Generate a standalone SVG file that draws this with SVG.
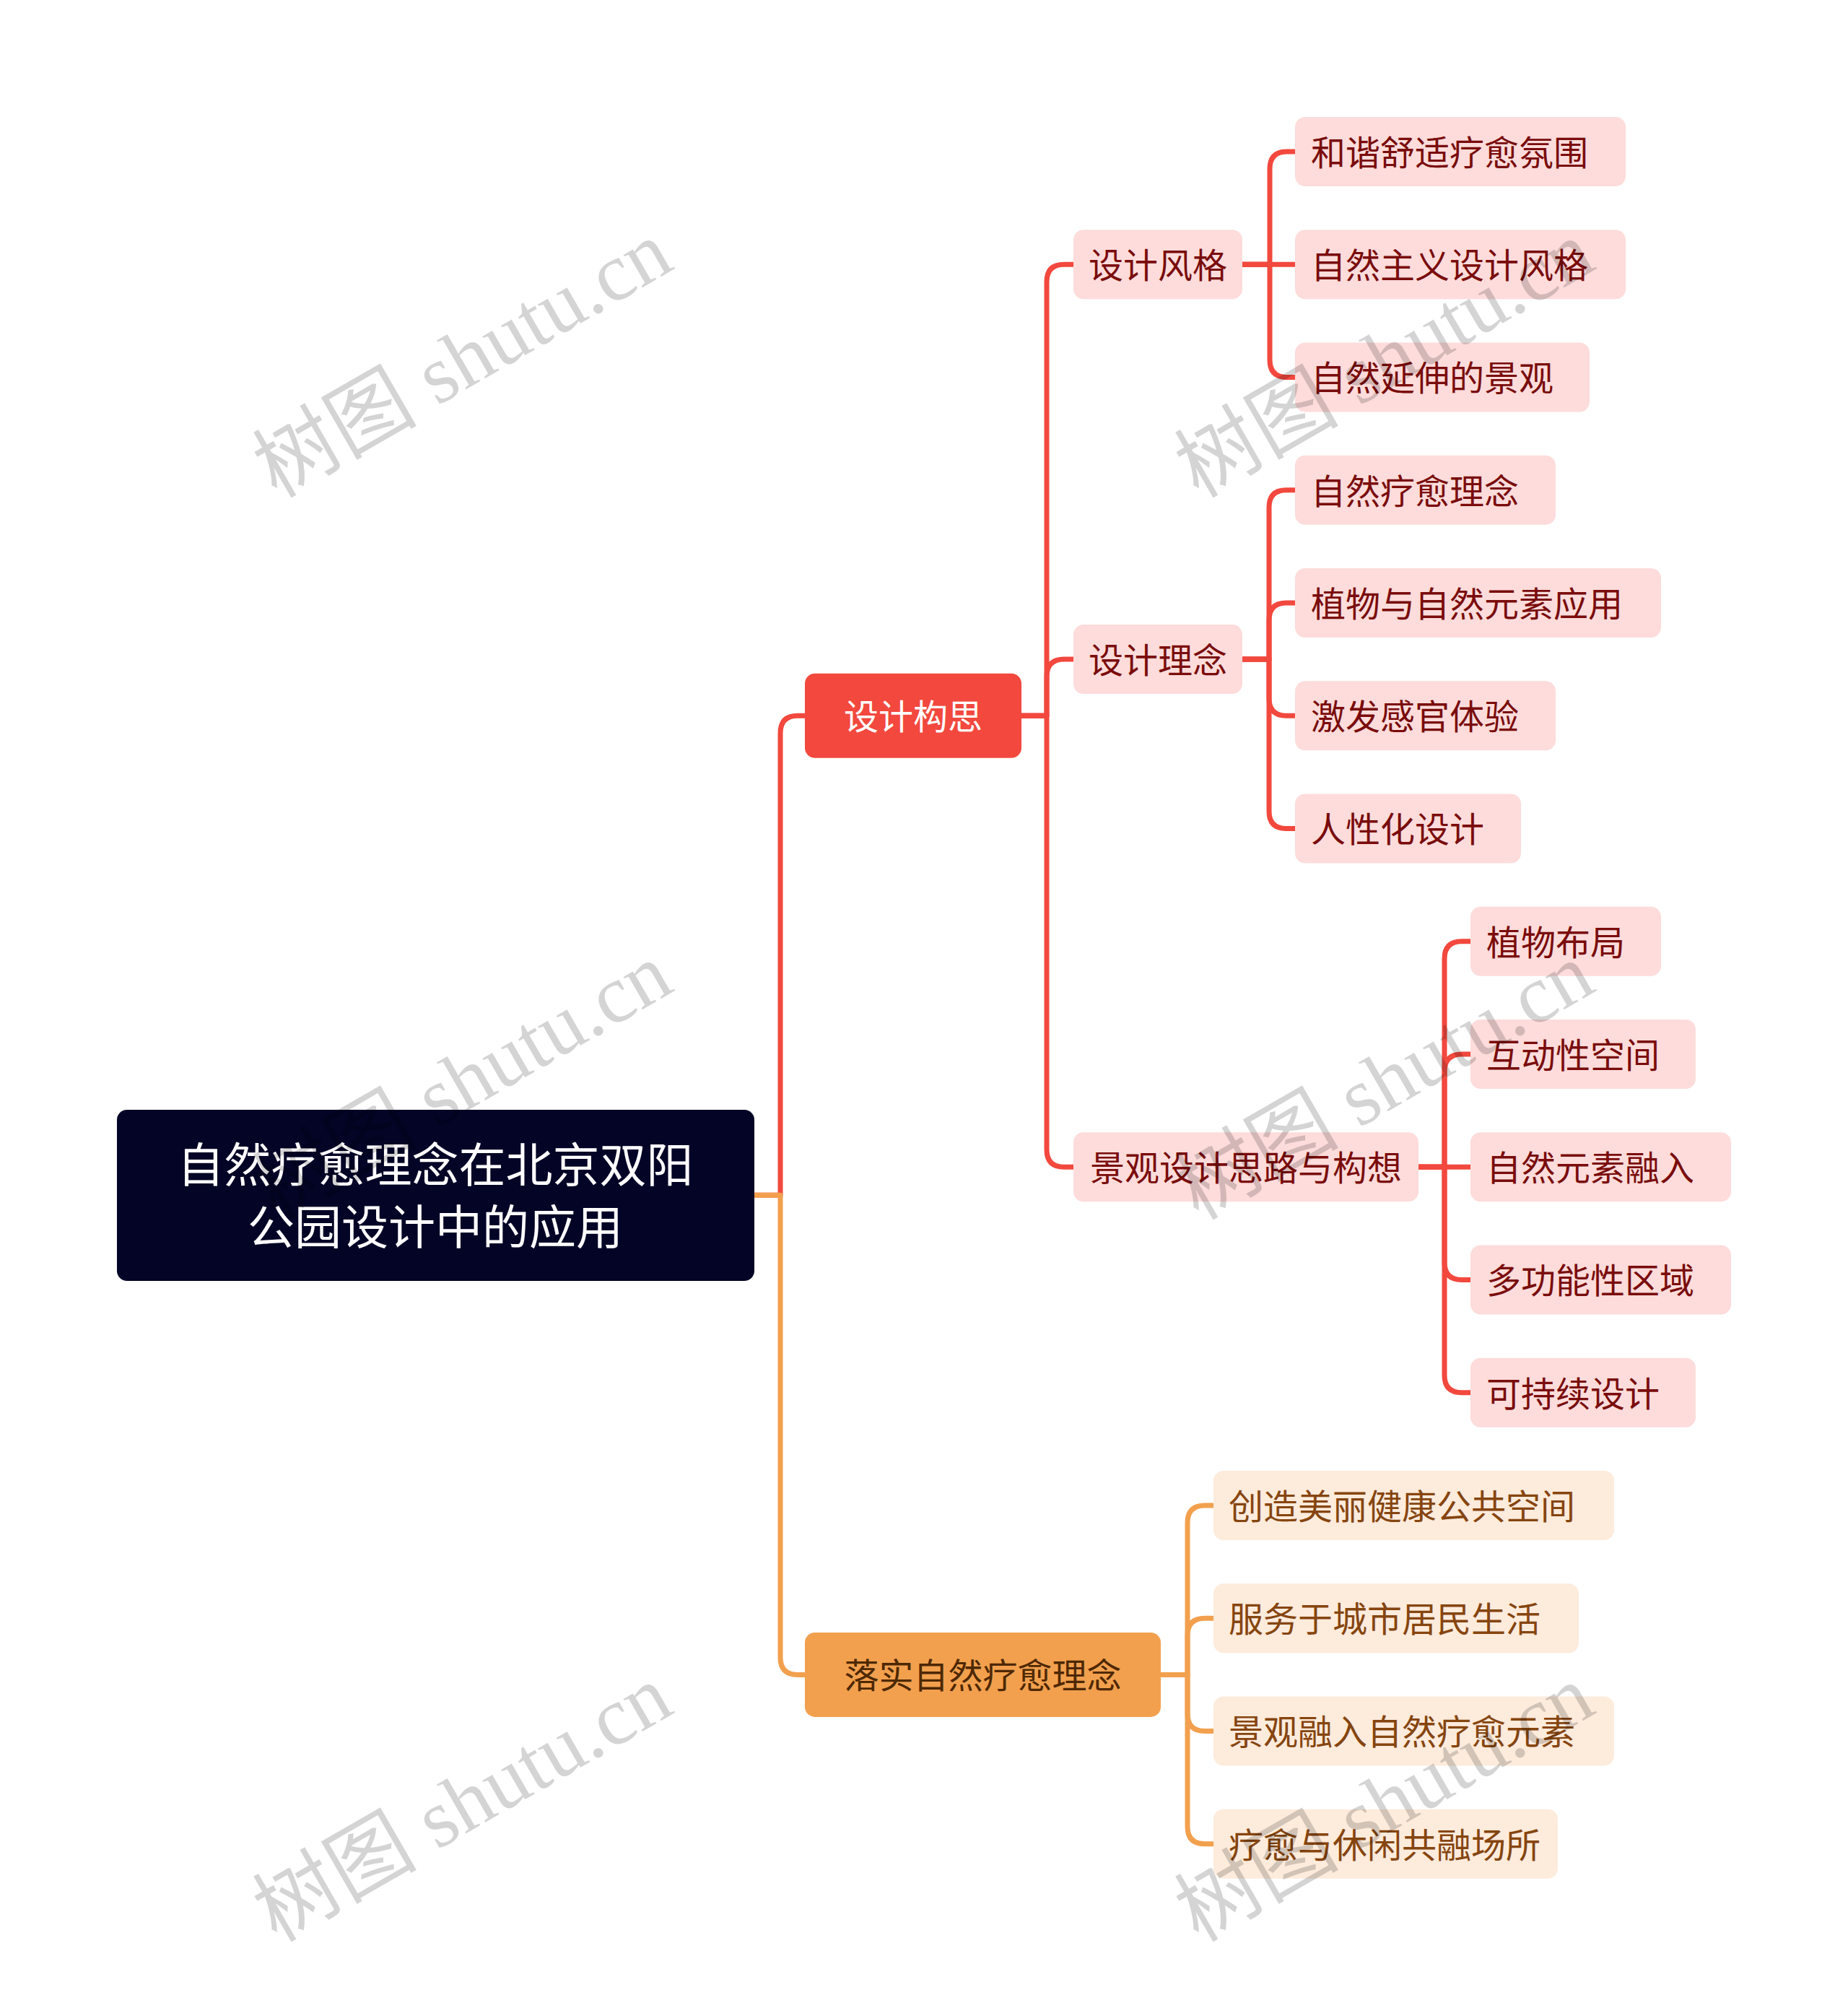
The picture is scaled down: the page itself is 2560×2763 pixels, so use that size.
<svg xmlns="http://www.w3.org/2000/svg" width="2560" height="2763" viewBox="0 0 2560 2763">
<style>
.t{font-family:"Noto Sans CJK SC","Noto Sans",sans-serif;font-size:48px}
.c{text-anchor:middle}
.red{fill:none;stroke:#F2483E;stroke-width:7;stroke-linejoin:round;stroke-linecap:butt}
.org{fill:none;stroke:#F2A04E;stroke-width:7;stroke-linejoin:round;stroke-linecap:butt}
.pk{fill:#FDDCDB}
.pkt{fill:#7A0C0C}
.lo{fill:#FDEBDC}
.lot{fill:#86450F}
.wm{font-family:"Liberation Serif","Noto Sans CJK SC",serif;font-size:114px;fill:#000;fill-opacity:0.17;text-anchor:middle}
</style>
<rect width="2560" height="2763" fill="#FFFFFF"/>
<g id="connectors">
<path class="red" d="M1045,1655.3 H1081 V1015.25 Q1081,991.25 1105,991.25 H1115"/>
<path class="org" d="M1045,1655.3 H1081 V2295.4 Q1081,2319.4 1105,2319.4 H1115"/>
<path class="red" d="M1415,991.25 H1450 V390.25 Q1450,366.25 1474,366.25 H1487"/>
<path class="red" d="M1415,991.25 H1450 V937.1 Q1450,913.1 1474,913.1 H1487"/>
<path class="red" d="M1415,991.25 H1450 V1592.25 Q1450,1616.25 1474,1616.25 H1487"/>
<path class="red" d="M1721,366.25 H1759 V234 Q1759,210 1783,210 H1794"/>
<path class="red" d="M1721,366.25 H1794"/>
<path class="red" d="M1721,366.25 H1759 V498.5 Q1759,522.5 1783,522.5 H1794"/>
<path class="red" d="M1721,913.1 H1758 V702.75 Q1758,678.75 1782,678.75 H1794"/>
<path class="red" d="M1721,913.1 H1758 V859 Q1758,835 1782,835 H1794"/>
<path class="red" d="M1721,913.1 H1758 V967.25 Q1758,991.25 1782,991.25 H1794"/>
<path class="red" d="M1721,913.1 H1758 V1123.5 Q1758,1147.5 1782,1147.5 H1794"/>
<path class="red" d="M1965,1616.25 H2001 V1327.75 Q2001,1303.75 2025,1303.75 H2037"/>
<path class="red" d="M1965,1616.25 H2001 V1484 Q2001,1460 2025,1460 H2037"/>
<path class="red" d="M1965,1616.25 H2037"/>
<path class="red" d="M1965,1616.25 H2001 V1748.5 Q2001,1772.5 2025,1772.5 H2037"/>
<path class="red" d="M1965,1616.25 H2001 V1904.75 Q2001,1928.75 2025,1928.75 H2037"/>
<path class="org" d="M1608,2319.4 H1645 V2109 Q1645,2085 1669,2085 H1681"/>
<path class="org" d="M1608,2319.4 H1645 V2265.25 Q1645,2241.25 1669,2241.25 H1681"/>
<path class="org" d="M1608,2319.4 H1645 V2373.5 Q1645,2397.5 1669,2397.5 H1681"/>
<path class="org" d="M1608,2319.4 H1645 V2529.75 Q1645,2553.75 1669,2553.75 H1681"/>
</g>
<g id="root">
<rect x="162" y="1537" width="883" height="237" rx="14" fill="#030426"/>
<text class="t c" x="603" y="1637" style="font-size:65px" fill="#FFFFFF">自然疗愈理念在北京双阳</text>
<text class="t c" x="603" y="1723" style="font-size:65px" fill="#FFFFFF">公园设计中的应用</text>
</g>
<g id="n-sjgs">
<rect x="1115" y="932.75" width="300" height="117" rx="14" fill="#F2483E"/>
<text class="t c" x="1265" y="1010" fill="#FFFFFF">设计构思</text>
</g>
<g id="n-lszr">
<rect x="1115" y="2260.9" width="493" height="117" rx="14" fill="#F2A04E"/>
<text class="t c" x="1361.5" y="2338" fill="#4E2804">落实自然疗愈理念</text>
</g>
<g id="n-sjfg">
<rect class="pk" x="1487" y="318.25" width="234" height="96" rx="14"/>
<text class="t c pkt" x="1604" y="385">设计风格</text>
</g>
<g id="n-sjln">
<rect class="pk" x="1487" y="865.1" width="234" height="96" rx="14"/>
<text class="t c pkt" x="1604" y="931.8">设计理念</text>
</g>
<g id="n-jgsj">
<rect class="pk" x="1487" y="1568.25" width="478" height="96" rx="14"/>
<text class="t c pkt" x="1726" y="1635">景观设计思路与构想</text>
</g>
<g id="n0"><rect class="pk" x="1794" y="162" width="458" height="96" rx="14"/><text class="t pkt" x="1816" y="228.7">和谐舒适疗愈氛围</text></g>
<g id="n1"><rect class="pk" x="1794" y="318.25" width="458" height="96" rx="14"/><text class="t pkt" x="1816" y="385">自然主义设计风格</text></g>
<g id="n2"><rect class="pk" x="1794" y="474.5" width="408" height="96" rx="14"/><text class="t pkt" x="1816" y="541.2">自然延伸的景观</text></g>
<g id="n3"><rect class="pk" x="1794" y="630.75" width="361" height="96" rx="14"/><text class="t pkt" x="1816" y="697.5">自然疗愈理念</text></g>
<g id="n4"><rect class="pk" x="1794" y="787" width="507" height="96" rx="14"/><text class="t pkt" x="1816" y="853.7">植物与自然元素应用</text></g>
<g id="n5"><rect class="pk" x="1794" y="943.25" width="361" height="96" rx="14"/><text class="t pkt" x="1816" y="1010">激发感官体验</text></g>
<g id="n6"><rect class="pk" x="1794" y="1099.5" width="313" height="96" rx="14"/><text class="t pkt" x="1816" y="1166.2">人性化设计</text></g>
<g id="n7"><rect class="pk" x="2037" y="1255.75" width="264" height="96" rx="14"/><text class="t pkt" x="2059" y="1322.5">植物布局</text></g>
<g id="n8"><rect class="pk" x="2037" y="1412" width="312" height="96" rx="14"/><text class="t pkt" x="2059" y="1478.7">互动性空间</text></g>
<g id="n9"><rect class="pk" x="2037" y="1568.25" width="361" height="96" rx="14"/><text class="t pkt" x="2059" y="1635">自然元素融入</text></g>
<g id="n10"><rect class="pk" x="2037" y="1724.5" width="361" height="96" rx="14"/><text class="t pkt" x="2059" y="1791.2">多功能性区域</text></g>
<g id="n11"><rect class="pk" x="2037" y="1880.75" width="312" height="96" rx="14"/><text class="t pkt" x="2059" y="1947.5">可持续设计</text></g>
<g id="n12"><rect class="lo" x="1681" y="2037" width="555" height="96" rx="14"/><text class="t lot" x="1702" y="2103.7">创造美丽健康公共空间</text></g>
<g id="n13"><rect class="lo" x="1681" y="2193.25" width="506" height="96" rx="14"/><text class="t lot" x="1702" y="2260">服务于城市居民生活</text></g>
<g id="n14"><rect class="lo" x="1681" y="2349.5" width="555" height="96" rx="14"/><text class="t lot" x="1702" y="2416.2">景观融入自然疗愈元素</text></g>
<g id="n15"><rect class="lo" x="1681" y="2505.75" width="477" height="96" rx="14"/><text class="t lot" x="1702" y="2572.5">疗愈与休闲共融场所</text></g>
<g id="watermarks">
<text class="wm" x="660" y="531" transform="rotate(-30 660 531)">树图 shutu.cn</text>
<text class="wm" x="1937" y="531" transform="rotate(-30 1937 531)">树图 shutu.cn</text>
<text class="wm" x="660" y="1531" transform="rotate(-30 660 1531)">树图 shutu.cn</text>
<text class="wm" x="1937" y="1531" transform="rotate(-30 1937 1531)">树图 shutu.cn</text>
<text class="wm" x="660" y="2531" transform="rotate(-30 660 2531)">树图 shutu.cn</text>
<text class="wm" x="1937" y="2531" transform="rotate(-30 1937 2531)">树图 shutu.cn</text>
</g>
</svg>
